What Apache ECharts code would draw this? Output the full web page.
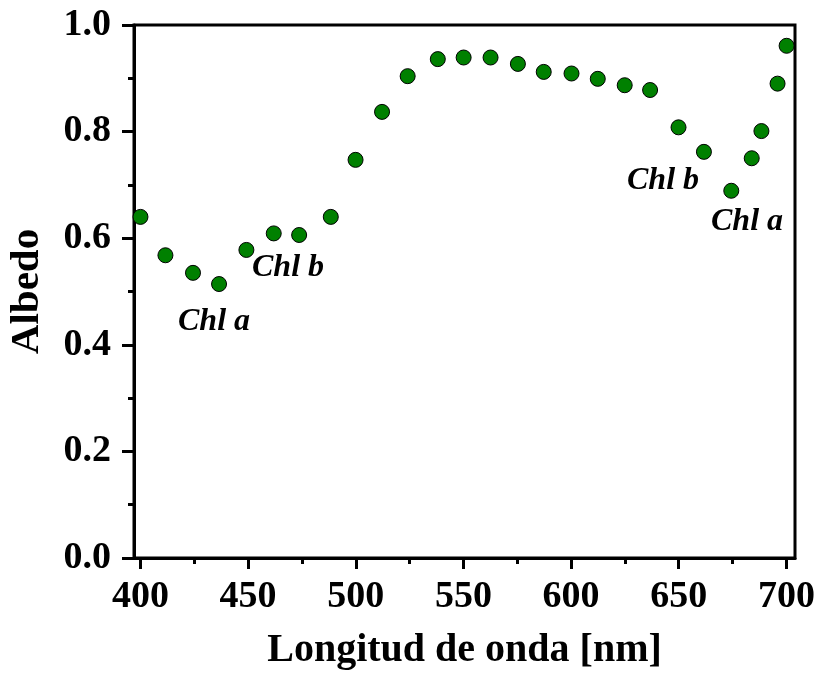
<!DOCTYPE html>
<html>
<head>
<meta charset="utf-8">
<script src="https://cdn.jsdelivr.net/npm/echarts@6/dist/echarts.min.js"></script>
<style>
  html, body { margin: 0; padding: 0; background: #fff; }
  #chart { width: 817px; height: 673px; }
</style>
</head>
<body>
<div id="chart"></div>
<script>
// Wavelength (nm) and measured albedo
const wavelength = [400.0, 411.6, 424.4, 436.5, 449.2, 461.9, 473.7, 488.4, 499.9, 512.2,
                    524.1, 538.1, 550.1, 562.6, 575.3, 587.3, 600.2, 612.4, 624.9, 636.7,
                    649.9, 661.7, 674.4, 683.9, 688.4, 695.9, 700.1];
const albedo = [0.640, 0.568, 0.535, 0.514, 0.578, 0.609, 0.606, 0.640, 0.747, 0.837,
                0.904, 0.936, 0.939, 0.939, 0.927, 0.912, 0.909, 0.899, 0.887, 0.878,
                0.808, 0.762, 0.689, 0.750, 0.801, 0.890, 0.961];

const xMajorTicks = [400, 450, 500, 550, 600, 650, 700];
const xMinorTicks = [425, 475, 525, 575, 625, 675];

// Pigment absorption annotations
const pigmentLabels = ['Chl a', 'Chl b', 'Chl b', 'Chl a'];

const FONT = '"Liberation Serif", "Times New Roman", serif';

const chart = echarts.init(document.getElementById('chart'));

const points = wavelength.map((w, i) => [w, albedo[i]]);

const labelStyle = { fontFamily: FONT, fontWeight: 'bold', fontStyle: 'italic', fontSize: 32, fill: '#000' };

chart.setOption({
  animation: false,
  backgroundColor: '#fff',
  grid: {
    left: 134, right: 22, top: 25, bottom: 115,
    containLabel: false, outerBoundsMode: 'none',
    show: true, borderColor: '#000', borderWidth: 3, backgroundColor: 'transparent'
  },
  xAxis: [
    {
      type: 'value', min: 397, max: 704,
      name: 'Longitud de onda [nm]', nameLocation: 'middle', nameGap: 73,
      nameTextStyle: { fontFamily: FONT, fontWeight: 'bold', fontSize: 40, color: '#000' },
      axisLine: { show: true, onZero: false, lineStyle: { color: '#000', width: 3 } },
      axisTick: { show: true, inside: false, length: 11, customValues: xMajorTicks,
                  lineStyle: { color: '#000', width: 3 } },
      axisLabel: { customValues: xMajorTicks, margin: 20, fontFamily: FONT, fontWeight: 'bold',
                   fontSize: 38, color: '#000' },
      splitLine: { show: false }
    },
    {
      type: 'value', min: 397, max: 704, position: 'bottom',
      axisLine: { show: false },
      axisTick: { show: true, inside: false, length: 6, customValues: xMinorTicks,
                  lineStyle: { color: '#000', width: 3 } },
      axisLabel: { show: false },
      splitLine: { show: false }
    }
  ],
  yAxis: {
    type: 'value', min: 0, max: 1, interval: 0.2,
    name: 'Albedo', nameLocation: 'middle', nameGap: 86, nameRotate: 90,
    nameTextStyle: { fontFamily: FONT, fontWeight: 'bold', fontSize: 41, color: '#000' },
    axisLine: { show: true, onZero: false, lineStyle: { color: '#000', width: 3 } },
    axisTick: { show: true, inside: false, length: 12, lineStyle: { color: '#000', width: 3 } },
    minorTick: { show: true, splitNumber: 2, length: 6, lineStyle: { color: '#000', width: 3 } },
    axisLabel: { margin: 23, fontFamily: FONT, fontWeight: 'bold', fontSize: 38, color: '#000',
                 formatter: v => v.toFixed(1) },
    splitLine: { show: false }
  },
  series: [{
    type: 'scatter',
    data: points,
    symbol: 'circle',
    symbolSize: 15,
    itemStyle: { color: '#008000', borderColor: '#000', borderWidth: 1, opacity: 1 }
  }],
  graphic: [
    { type: 'text', left: 178, top: 306, style: Object.assign({ text: pigmentLabels[0] }, labelStyle) },
    { type: 'text', left: 252, top: 252, style: Object.assign({ text: pigmentLabels[1] }, labelStyle) },
    { type: 'text', left: 627, top: 165, style: Object.assign({ text: pigmentLabels[2] }, labelStyle) },
    { type: 'text', left: 711, top: 206, style: Object.assign({ text: pigmentLabels[3] }, labelStyle) }
  ]
});
</script>
</body>
</html>
